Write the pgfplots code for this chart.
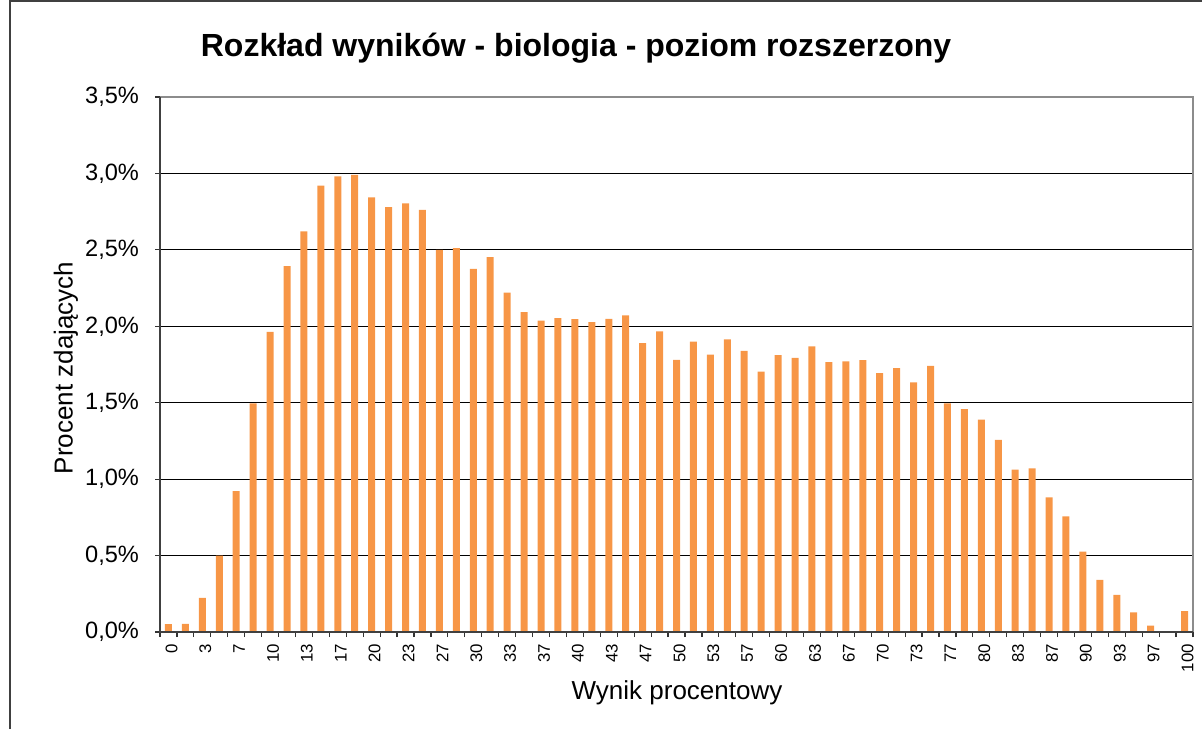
\documentclass[border=0pt]{standalone}
\usepackage{fontspec}
\setmainfont{Liberation Sans}
\usepackage{pgfplots}
\pgfplotsset{compat=1.18}
\definecolor{barorange}{HTML}{F79646}
\begin{document}
\begin{tikzpicture}
\useasboundingbox (0,0) rectangle (601pt,364.5pt);
\draw[black!75, line width=0.9pt] (5pt,0pt) -- (5pt,364pt) -- (601pt,364pt);
\begin{axis}[
  at={(80pt,48.5pt)}, anchor=south west,
  scale only axis, width=516.5pt, height=267.5pt,
  xmin=-0.5, xmax=60.5, ymin=0, ymax=3.5,
  xtick={0,2,...,60},
  xticklabels={0,3,7,10,13,17,20,23,27,30,33,37,40,43,47,50,53,57,60,63,67,70,73,77,80,83,87,90,93,97,100},
  minor xtick={-0.5,0.5,...,60.5},
  ytick={0,0.5,...,3.5},
  yticklabels={{0,0\%},{0,5\%},{1,0\%},{1,5\%},{2,0\%},{2,5\%},{3,0\%},{3,5\%}},
  tick align=outside,
  tick pos=left,
  x tick style={draw=none},
  minor x tick style={draw=black!80, line width=0.6pt},
  minor tick length=2.5pt,
  major tick length=2.5pt,
  y tick style={black!80, line width=0.6pt},
  ymajorgrids,
  major grid style={black, line width=0.5pt},
  axis line style={draw=none},
  xticklabel style={rotate=90, anchor=east, font=\fontsize{8.4}{10}\selectfont, yshift=-1.5pt},
  yticklabel style={font=\fontsize{11.8}{13}\selectfont, xshift=-4.5pt},
  clip=false,
]
\draw[gray!90, line width=1pt] (axis cs:-0.5,3.5) -- (axis cs:60.5,3.5) -- (axis cs:60.5,0);
\addplot[ybar, bar width=3.5pt, fill=barorange, draw=none] coordinates {
(0,0.051) (1,0.054) (2,0.224) (3,0.500) (4,0.921) (5,1.495) (6,1.963) (7,2.393) (8,2.621) (9,2.921)
(10,2.981) (11,2.991) (12,2.843) (13,2.780) (14,2.804) (15,2.762) (16,2.500) (17,2.512) (18,2.376) (19,2.453)
(20,2.220) (21,2.093) (22,2.037) (23,2.054) (24,2.047) (25,2.028) (26,2.049) (27,2.072) (28,1.890) (29,1.967)
(30,1.780) (31,1.900) (32,1.815) (33,1.914) (34,1.839) (35,1.703) (36,1.811) (37,1.794) (38,1.869) (39,1.766)
(40,1.771) (41,1.778) (42,1.694) (43,1.727) (44,1.633) (45,1.741) (46,1.495) (47,1.458) (48,1.390) (49,1.257)
(50,1.063) (51,1.070) (52,0.881) (53,0.757) (54,0.526) (55,0.341) (56,0.243) (57,0.128) (58,0.042) (59,0.005)
(60,0.136)
};
\draw[black!75, line width=1pt] (axis cs:-0.5,3.5) -- (axis cs:-0.5,0) -- (axis cs:60.5,0);
\end{axis}
\node[anchor=base, font=\bfseries\fontsize{16}{19}\selectfont] at (288pt,336pt) {Rozkład wyników - biologia - poziom rozszerzony};
\node[rotate=90, font=\fontsize{13}{15}\selectfont] at (33pt,180.5pt) {Procent zdających};
\node[font=\fontsize{13}{15}\selectfont] at (338.5pt,18pt) {Wynik procentowy};
\end{tikzpicture}
\end{document}
